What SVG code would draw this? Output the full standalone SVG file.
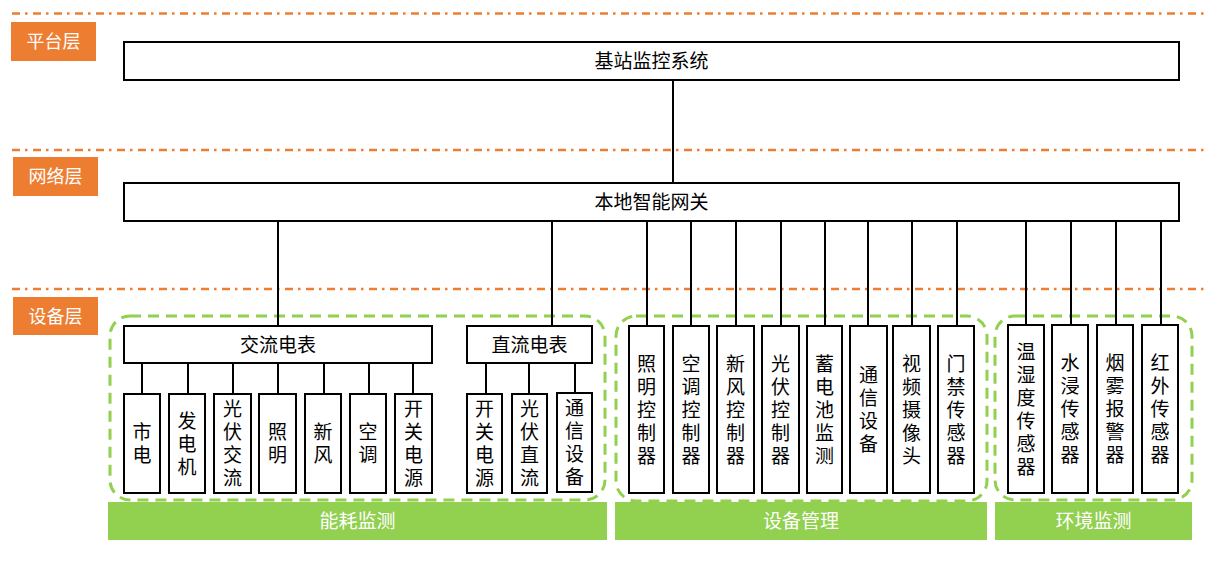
<svg xmlns="http://www.w3.org/2000/svg" width="1217" height="580" viewBox="0 0 1217 580">
<style>
.bg{fill:#ffffff}
.sep{stroke:#ED7D31;stroke-width:2.5;stroke-dasharray:8 5 2.5 5.5;fill:none}
.layer{fill:#ED7D31}
.lt{font-family:"Noto Sans CJK SC","Microsoft YaHei",sans-serif;font-size:18px;fill:#ffffff;text-anchor:middle}
.box{fill:#ffffff;stroke:#000000;stroke-width:2}
.t{font-family:"Noto Sans CJK SC","Microsoft YaHei",sans-serif;font-size:19px;fill:#000000;text-anchor:middle}
.v{font-family:"Noto Sans CJK SC","Microsoft YaHei",sans-serif;font-size:19px;fill:#000000;text-anchor:middle;writing-mode:vertical-rl;letter-spacing:4px}
.grp{fill:none;stroke:#92D050;stroke-width:3;stroke-dasharray:11 7}
.bar{fill:#92D050}
.bt{font-family:"Noto Sans CJK SC","Microsoft YaHei",sans-serif;font-size:19px;fill:#ffffff;text-anchor:middle}
.conn line{stroke:#000000;stroke-width:2}
</style>
<rect class="bg" x="0" y="0" width="1217" height="580"/>

<g id="separators">
<line class="sep" x1="12" y1="13.5" x2="1204" y2="13.5"/>
<line class="sep" x1="12" y1="150" x2="1204" y2="150"/>
<line class="sep" x1="12" y1="289" x2="1204" y2="289"/>
</g>

<g id="layer-platform"><rect class="layer" x="11" y="22" width="85" height="39"/><text class="lt" x="53.5" y="48">平台层</text></g>
<g id="layer-network"><rect class="layer" x="13" y="157" width="85" height="39"/><text class="lt" x="55.5" y="183">网络层</text></g>
<g id="layer-device"><rect class="layer" x="13" y="297" width="85" height="38"/><text class="lt" x="55.5" y="322.5">设备层</text></g>

<g id="groups">
<rect class="grp" x="110" y="316" width="495" height="184" rx="20"/>
<rect class="grp" x="616" y="316" width="371" height="185" rx="20"/>
<rect class="grp" x="995" y="316" width="197" height="184" rx="20"/>
</g>

<g id="bars">
<g id="bar-energy"><rect class="bar" x="108" y="502" width="499" height="38"/><text class="bt" x="357.5" y="528">能耗监测</text></g>
<g id="bar-equip"><rect class="bar" x="615" y="502" width="372" height="38"/><text class="bt" x="801" y="528">设备管理</text></g>
<g id="bar-env"><rect class="bar" x="995" y="502" width="197" height="38"/><text class="bt" x="1093.5" y="528">环境监测</text></g>
</g>

<g class="conn" id="connectors">
<line x1="673" y1="80" x2="673" y2="183"/>
<line x1="278" y1="221" x2="278" y2="326"/>
<line x1="552" y1="221" x2="552" y2="326"/>
<line x1="647" y1="221" x2="647" y2="326"/>
<line x1="691" y1="221" x2="691" y2="326"/>
<line x1="736" y1="221" x2="736" y2="326"/>
<line x1="781" y1="221" x2="781" y2="326"/>
<line x1="825" y1="221" x2="825" y2="326"/>
<line x1="868" y1="221" x2="868" y2="326"/>
<line x1="912" y1="221" x2="912" y2="326"/>
<line x1="957" y1="221" x2="957" y2="326"/>
<line x1="1026" y1="221" x2="1026" y2="325"/>
<line x1="1071" y1="221" x2="1071" y2="325"/>
<line x1="1116" y1="221" x2="1116" y2="325"/>
<line x1="1161" y1="221" x2="1161" y2="325"/>
<line x1="142" y1="363" x2="142" y2="394"/>
<line x1="188" y1="363" x2="188" y2="394"/>
<line x1="233" y1="363" x2="233" y2="394"/>
<line x1="278" y1="363" x2="278" y2="394"/>
<line x1="324" y1="363" x2="324" y2="394"/>
<line x1="369" y1="363" x2="369" y2="394"/>
<line x1="413" y1="363" x2="413" y2="394"/>
<line x1="486" y1="363" x2="486" y2="394"/>
<line x1="529" y1="363" x2="529" y2="394"/>
<line x1="575" y1="363" x2="575" y2="393"/>
</g>

<g id="platform"><rect class="box" x="124" y="42" width="1055" height="38"/><text class="t" x="651.5" y="68">基站监控系统</text></g>
<g id="gateway"><rect class="box" x="124" y="183" width="1055" height="38"/><text class="t" x="651.5" y="209">本地智能网关</text></g>

<g id="ac-meter"><rect class="box" x="124" y="326" width="308" height="37"/><text class="t" x="278" y="351.5">交流电表</text></g>
<g id="dc-meter"><rect class="box" x="467" y="326" width="125" height="37"/><text class="t" x="529.5" y="351.5">直流电表</text></g>

<g id="ac-1"><rect class="box" x="124" y="394" width="36" height="99"/><text class="v" x="142" y="445.5">市电</text></g>
<g id="ac-2"><rect class="box" x="169" y="394" width="36" height="99"/><text class="v" x="187" y="445.5">发电机</text></g>
<g id="ac-3"><rect class="box" x="214" y="394" width="37" height="99"/><text class="v" x="232.5" y="445.5">光伏交流</text></g>
<g id="ac-4"><rect class="box" x="259" y="394" width="37" height="99"/><text class="v" x="277.5" y="445.5">照明</text></g>
<g id="ac-5"><rect class="box" x="305" y="394" width="36" height="99"/><text class="v" x="323" y="445.5">新风</text></g>
<g id="ac-6"><rect class="box" x="350" y="394" width="36" height="99"/><text class="v" x="368" y="445.5">空调</text></g>
<g id="ac-7"><rect class="box" x="395" y="394" width="37" height="99"/><text class="v" x="413.5" y="445.5">开关电源</text></g>

<g id="dc-1"><rect class="box" x="467" y="394" width="35" height="99"/><text class="v" x="484.5" y="445.5">开关电源</text></g>
<g id="dc-2"><rect class="box" x="512" y="394" width="35" height="99"/><text class="v" x="529.5" y="445.5">光伏直流</text></g>
<g id="dc-3"><rect class="box" x="557" y="393" width="35" height="99"/><text class="v" x="574.5" y="444.5">通信设备</text></g>

<g id="dm-1"><rect class="box" x="629" y="326" width="35" height="167"/><text class="v" x="646.5" y="411.5">照明控制器</text></g>
<g id="dm-2"><rect class="box" x="673" y="326" width="36" height="167"/><text class="v" x="691" y="411.5">空调控制器</text></g>
<g id="dm-3"><rect class="box" x="717" y="326" width="37" height="167"/><text class="v" x="735.5" y="411.5">新风控制器</text></g>
<g id="dm-4"><rect class="box" x="762" y="326" width="37" height="167"/><text class="v" x="780.5" y="411.5">光伏控制器</text></g>
<g id="dm-5"><rect class="box" x="807" y="326" width="35" height="167"/><text class="v" x="824.5" y="411.5">蓄电池监测</text></g>
<g id="dm-6"><rect class="box" x="850" y="326" width="37" height="167"/><text class="v" x="868.5" y="411.5">通信设备</text></g>
<g id="dm-7"><rect class="box" x="893" y="326" width="37" height="167"/><text class="v" x="911.5" y="411.5">视频摄像头</text></g>
<g id="dm-8"><rect class="box" x="938" y="326" width="36" height="167"/><text class="v" x="956" y="411.5">门禁传感器</text></g>

<g id="env-1"><rect class="box" x="1008" y="325" width="36" height="168"/><text class="v" x="1026" y="411">温湿度传感器</text></g>
<g id="env-2"><rect class="box" x="1052" y="325" width="36" height="168"/><text class="v" x="1070" y="411">水浸传感器</text></g>
<g id="env-3"><rect class="box" x="1097" y="325" width="36" height="168"/><text class="v" x="1115" y="411">烟雾报警器</text></g>
<g id="env-4"><rect class="box" x="1142" y="325" width="36" height="168"/><text class="v" x="1160" y="411">红外传感器</text></g>
</svg>
